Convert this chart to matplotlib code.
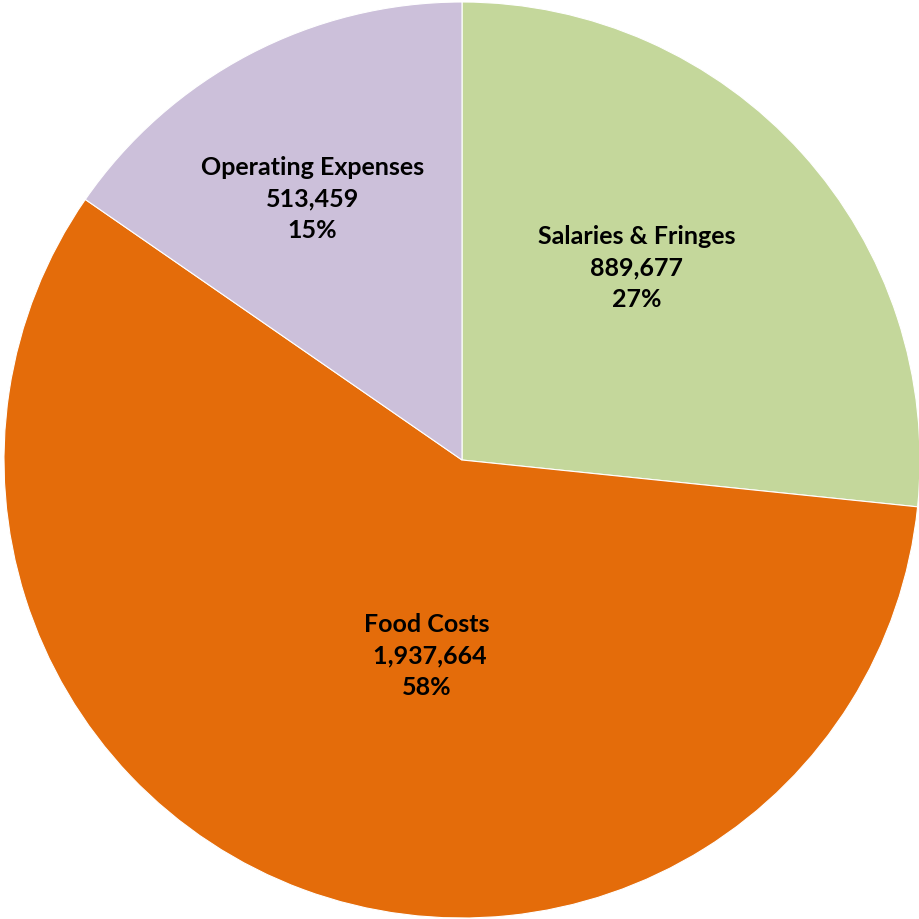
import matplotlib.pyplot as plt
import numpy as np

# Datos del gráfico
categories = ["Salaries & Fringes", "Food Costs", "Operating Expenses"]
values = [889677, 1937664, 513459]
value_labels = ["889,677", " 1,937,664", "513,459"]
percent_labels = ["27%", "58%", "15%"]
colors = ["#C4D79B", "#E46C0A", "#CCC0DA"]

# Ajustes de posición de las etiquetas (grados extra, distancia al centro)
angle_shift = [6, 10, 2]
label_dist = [0.57, 0.43, 0.66]

W, H = 920, 919
fig = plt.figure(figsize=(W / 100, H / 100), dpi=100)
ax = fig.add_axes([0, 0, 1, 1])

cx, cy, r = 462, 460, 458
wedges, _ = ax.pie(values, colors=colors, startangle=90, counterclock=False,
                   wedgeprops=dict(edgecolor="white", linewidth=0.8))
ax.set_xlim(-cx / r, (W - cx) / r)
ax.set_ylim(-(H - cy) / r, cy / r)
ax.set_aspect("equal")
ax.axis("off")

for w, cat, val, pct, da, d in zip(wedges, categories, value_labels, percent_labels,
                                   angle_shift, label_dist):
    mid = np.deg2rad((w.theta1 + w.theta2) / 2 + da)
    ax.text(d * np.cos(mid), d * np.sin(mid) - 0.004, f"{cat}\n{val}\n{pct}",
            ha="center", va="center", fontsize=18, fontweight="bold",
            family=["Lato", "DejaVu Sans"], linespacing=1.45, color="black")

fig.savefig("out.png", dpi=100)
